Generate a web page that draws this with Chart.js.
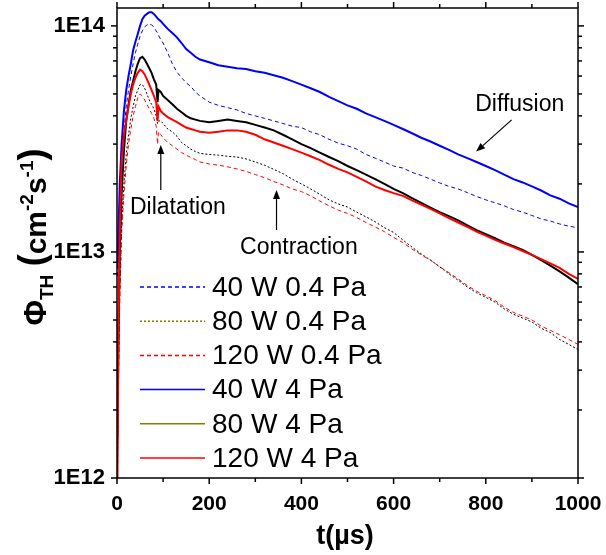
<!DOCTYPE html>
<html>
<head>
<meta charset="utf-8">
<script src="https://cdn.jsdelivr.net/npm/chart.js@4"></script>
<style>
  html, body { margin: 0; padding: 0; background: #fff; }
</style>
</head>
<body>
<canvas id="chart" width="606" height="555"></canvas>
<script>
// Time (µs), shared by all traces
const times = [1, 3, 6, 10, 15, 20, 25, 30, 35, 40, 45, 50, 55, 60, 65, 70, 75, 80, 85, 88,
  90, 95, 100, 110, 120, 130, 140, 150, 160, 170, 180,
  200, 220, 240, 260, 280, 300, 320, 340, 360, 380, 400, 420, 440, 460, 480, 500, 520, 540, 560, 580,
  600, 620, 640, 660, 680, 700, 720, 740, 760, 780, 800, 820, 840, 860, 880, 900, 920, 940, 960, 980, 1000];

// Thermal flux, in units of 1E12 cm-2 s-1
const flux40W04Pa = [7.8, 10, 16, 24, 34, 44, 52, 60, 68, 76, 83, 90, 95, 99, 101, 102, 101, 99, 95, 93,
  91, 87, 84, 76, 68, 62.5, 59, 56, 54, 51, 49,
  46, 44.5, 43.5, 42.5, 41, 40, 39, 38, 37, 36, 35.5, 34, 33, 31.5, 30.3, 29.5, 28.5, 27, 26, 25,
  24, 23.5, 22.5, 21.8, 21, 20.2, 19.5, 19, 18.3, 17.6, 17, 16.5, 16, 15.4, 15, 14.5, 14, 13.7, 13.3, 13, 12.8];
const flux80W04Pa = [1.2, 3, 7, 13, 20, 27, 33, 39, 44, 49, 52, 55, 55, 53, 50, 47, 45, 43, 40, 37,
  38, 38, 37, 35, 34, 32.5, 30.5, 29.5, 28.5, 27.8, 27.3,
  27, 26.8, 26.5, 26.3, 25.8, 25, 24.2, 23.2, 22.2, 21, 20, 19, 18, 17, 16.3, 15.8, 15, 14.3, 13.6, 12.8,
  12.2, 11.3, 10.5, 9.8, 9.2, 8.6, 8, 7.5, 7, 6.6, 6.3, 6, 5.6, 5.3, 5.1, 4.9, 4.6, 4.4, 4.1, 3.9, 3.7];
const flux120W04Pa = [1, 2.5, 6, 12, 18, 24, 30, 35, 40, 44, 48, 50, 49, 47, 45, 43, 41, 39, 36, 30,
  34, 33, 32, 30.5, 29.5, 28.5, 27.5, 26.8, 26.2, 25.6, 25,
  24.5, 24.2, 23.8, 23.3, 22.7, 22, 21.3, 20.5, 19.8, 19, 18.5, 17.7, 16.8, 16, 15.3, 14.8, 14.2, 13.5, 12.9, 12.3,
  11.6, 11, 10.3, 9.7, 9.2, 8.6, 8.1, 7.6, 7.1, 6.7, 6.4, 6.1, 5.7, 5.4, 5.2, 5, 4.7, 4.5, 4.3, 4.1, 3.9];
const flux40W4Pa = [8.5, 12, 20, 30, 42, 52, 60, 68, 78, 85, 92, 100, 107, 111, 113, 115, 115, 113, 110, 108,
  107, 105, 102, 97, 93, 89, 84, 79, 76, 73, 71,
  69, 67, 66, 65, 64.5, 63, 62, 60.5, 59, 57, 55, 53, 51, 48.5, 46.5, 44.5, 43, 41, 39.5, 38,
  36.5, 35, 33.5, 32, 30.8, 29.5, 28.3, 27, 26, 25, 24, 23, 22, 21, 20.3, 19.5, 18.7, 17.8, 17.2, 16.4, 15.8];
const flux80W4Pa = [1.5, 4, 10, 18, 28, 38, 45, 52, 57, 63, 68, 72, 73, 71, 68, 65, 62, 58, 55, 46,
  52, 51, 49, 47, 45, 43, 41.5, 40, 39, 38.5, 38,
  37.5, 38, 38.5, 38, 37.5, 36.5, 35.5, 34.5, 33, 31.5, 30, 28.8, 27.5, 26.3, 25.2, 24, 23, 22, 21, 20,
  19, 18.2, 17.3, 16.5, 15.7, 15, 14.4, 13.8, 13.1, 12.5, 12, 11.5, 11, 10.6, 10.2, 9.7, 9.2, 8.7, 8.2, 7.7, 7.2];
const flux120W4Pa = [1, 4, 12, 25, 33, 38, 44, 50, 55, 59, 62, 64, 63, 61, 58, 55, 52, 49, 46, 38,
  44, 42, 41, 39.5, 38.5, 37.5, 36.5, 35.5, 35, 34.5, 34,
  33.7, 34, 34.5, 34.5, 34, 33, 31.5, 30.5, 29.5, 28.5, 27.5, 26.5, 25.5, 24.3, 23.3, 22.5, 21.5, 20.5, 19.5, 18.8,
  18.2, 17.7, 16.9, 16.2, 15.5, 14.8, 14.1, 13.5, 12.9, 12.3, 11.8, 11.3, 10.9, 10.5, 10.1, 9.7, 9.3, 8.9, 8.5, 8, 7.6];

const seriesLabels = ["40 W 0.4 Pa", "80 W 0.4 Pa", "120 W 0.4 Pa", "40 W 4 Pa", "80 W 4 Pa", "120 W 4 Pa"];
const seriesValues = [flux40W04Pa, flux80W04Pa, flux120W04Pa, flux40W4Pa, flux80W4Pa, flux120W4Pa];

// Axis ticks
const yTicks = [1, 2, 3, 4, 5, 6, 7, 8, 9, 10, 20, 30, 40, 50, 60, 70, 80, 90, 100];
const yMajorTicks = [1, 10, 100];
const yTickLabels = ["1E12", "1E13", "1E14"];
const xTicks = [0, 100, 200, 300, 400, 500, 600, 700, 800, 900, 1000];
const xTickLabels = ["0", "", "200", "", "400", "", "600", "", "800", "", "1000"];

// Annotations (text anchor and arrow from -> to, in data units)
const notes = [
  { text: "Dilatation", at: [28, 15.7], from: [95, 18.8], to: [95, 29.7] },
  { text: "Contraction", at: [267, 10.4], from: [346, 12.5], to: [346, 18.8] },
  { text: "Diffusion", at: [777, 44.7], from: [856, 38.4], to: [779, 27.8] }
];

const FONT = "'Liberation Sans', Arial, Helvetica, sans-serif";
const colors = ["#0000ff", "#000000", "#ff0000", "#0000ff", "#000000", "#ff0000"];
const legendColors = ["#0000ff", "#808000", "#ff0000", "#0000ff", "#808000", "#ff0000"];
const dashes = [[4, 3], [2, 2], [4, 3], [], [], []];

const datasets = seriesValues.map((vals, i) => ({
  label: seriesLabels[i],
  data: times.map((t, j) => ({ x: t, y: vals[j] })),
  borderColor: colors[i],
  borderDash: dashes[i],
  borderWidth: i < 3 ? 1 : 2,
  pointRadius: 0,
  tension: 0,
  fill: false,
  order: [6, 5, 4, 3, 2, 1][i]
}));

function strokeLine(ctx, x1, y1, x2, y2) {
  ctx.beginPath();
  ctx.moveTo(x1, y1);
  ctx.lineTo(x2, y2);
  ctx.stroke();
}

function drawArrow(ctx, x1, y1, x2, y2) {
  const ang = Math.atan2(y2 - y1, x2 - x1);
  const len = 9, half = 3.5;
  strokeLine(ctx, x1, y1, x2 - Math.cos(ang) * len, y2 - Math.sin(ang) * len);
  ctx.beginPath();
  ctx.moveTo(x2, y2);
  ctx.lineTo(x2 - Math.cos(ang) * len - Math.sin(ang) * half, y2 - Math.sin(ang) * len + Math.cos(ang) * half);
  ctx.lineTo(x2 - Math.cos(ang) * len + Math.sin(ang) * half, y2 - Math.sin(ang) * len - Math.cos(ang) * half);
  ctx.closePath();
  ctx.fill();
}

// Y title with subscript / superscripts
function drawYTitle(ctx) {
  const parts = [
    { t: "Φ", size: 31, dy: 0 },
    { t: "TH", size: 19, dy: 7 },
    { t: " ", size: 30, dy: 0 },
    { t: "(", size: 36, dy: -2 },
    { t: "cm", size: 30, dy: 0 },
    { t: "-2", size: 19, dy: -13 },
    { t: "s", size: 30, dy: 0 },
    { t: "-1", size: 19, dy: -13 },
    { t: ")", size: 36, dy: -2 }
  ];
  ctx.save();
  ctx.translate(46, 237);
  ctx.rotate(-Math.PI / 2);
  ctx.fillStyle = "#000";
  ctx.textAlign = "left";
  ctx.textBaseline = "alphabetic";
  let total = 0;
  parts.forEach(p => {
    ctx.font = `bold ${p.size}px ${FONT}`;
    p.w = ctx.measureText(p.t).width;
    total += p.w;
  });
  let cx = -total / 2;
  parts.forEach(p => {
    ctx.font = `bold ${p.size}px ${FONT}`;
    ctx.fillText(p.t, cx, p.dy);
    cx += p.w;
  });
  ctx.restore();
}

// Frame, mirrored ticks, titles, legend and notes
const decorations = {
  id: "decorations",
  afterDraw(chart) {
    const { ctx, chartArea: a, scales: { x, y } } = chart;
    ctx.save();
    ctx.strokeStyle = "#000";
    ctx.fillStyle = "#000";
    ctx.lineWidth = 1.5;
    ctx.strokeRect(a.left, a.top, a.right - a.left, a.bottom - a.top);

    yTicks.forEach(v => {
      const py = y.getPixelForValue(v);
      const len = yMajorTicks.includes(v) ? 6 : 4;
      strokeLine(ctx, a.left - len, py, a.left, py);
      strokeLine(ctx, a.right, py, a.right + len, py);
    });
    xTicks.forEach((t, i) => {
      const px = x.getPixelForValue(t);
      const len = xTickLabels[i] ? 6 : 4;
      strokeLine(ctx, px, a.bottom, px, a.bottom + len);
      strokeLine(ctx, px, a.top, px, a.top - len);
    });

    // x title
    ctx.font = `bold 27px ${FONT}`;
    ctx.textAlign = "center";
    ctx.textBaseline = "middle";
    ctx.fillText("t(µs)", 345, 537);
    drawYTitle(ctx);

    // legend
    ctx.lineWidth = 1.5;
    ctx.font = `28px ${FONT}`;
    ctx.textAlign = "left";
    ctx.textBaseline = "middle";
    seriesLabels.forEach((label, i) => {
      const ly = 287 + i * 34.2;
      ctx.strokeStyle = legendColors[i];
      ctx.setLineDash(dashes[i]);
      strokeLine(ctx, 140, ly, 205, ly);
      ctx.setLineDash([]);
      ctx.fillStyle = "#000";
      ctx.fillText(label, 212, ly + 1);
    });

    // notes with arrows
    ctx.strokeStyle = "#000";
    ctx.fillStyle = "#000";
    ctx.lineWidth = 1.2;
    ctx.font = `23px ${FONT}`;
    notes.forEach(n => {
      ctx.fillText(n.text, x.getPixelForValue(n.at[0]), y.getPixelForValue(n.at[1]));
      drawArrow(ctx,
        x.getPixelForValue(n.from[0]), y.getPixelForValue(n.from[1]),
        x.getPixelForValue(n.to[0]), y.getPixelForValue(n.to[1]));
    });
    ctx.restore();
  }
};

new Chart(document.getElementById("chart"), {
  type: "line",
  data: { datasets },
  options: {
    responsive: false,
    animation: false,
    devicePixelRatio: 1,
    layout: { padding: { top: 8, right: 28, left: 0, bottom: 0 } },
    plugins: { legend: { display: false }, tooltip: { enabled: false } },
    scales: {
      x: {
        type: "linear",
        min: 0,
        max: 1000,
        grid: { display: false, drawTicks: false },
        border: { display: false },
        afterFit: s => { s.height = 77; s.paddingLeft = 0; s.paddingRight = 0; },
        afterBuildTicks: s => { s.ticks = xTicks.map(v => ({ value: v })); },
        ticks: {
          autoSkip: false,
          maxRotation: 0,
          padding: 14,
          color: "#000",
          font: { family: FONT, size: 21, weight: "bold" },
          callback: (v) => xTickLabels[xTicks.indexOf(v)] ?? ""
        }
      },
      y: {
        type: "logarithmic",
        min: 1,
        max: 120,
        grid: { display: false, drawTicks: false },
        border: { display: false },
        afterFit: s => { s.width = 117; s.paddingTop = 0; s.paddingBottom = 0; },
        afterBuildTicks: s => { s.ticks = yTicks.map(v => ({ value: v })); },
        ticks: {
          autoSkip: false,
          padding: 12,
          color: "#000",
          font: { family: FONT, size: 22, weight: "bold" },
          callback: (v) => {
            const k = yMajorTicks.indexOf(v);
            return k >= 0 ? yTickLabels[k] : "";
          }
        }
      }
    }
  },
  plugins: [decorations]
});
</script>
</body>
</html>
